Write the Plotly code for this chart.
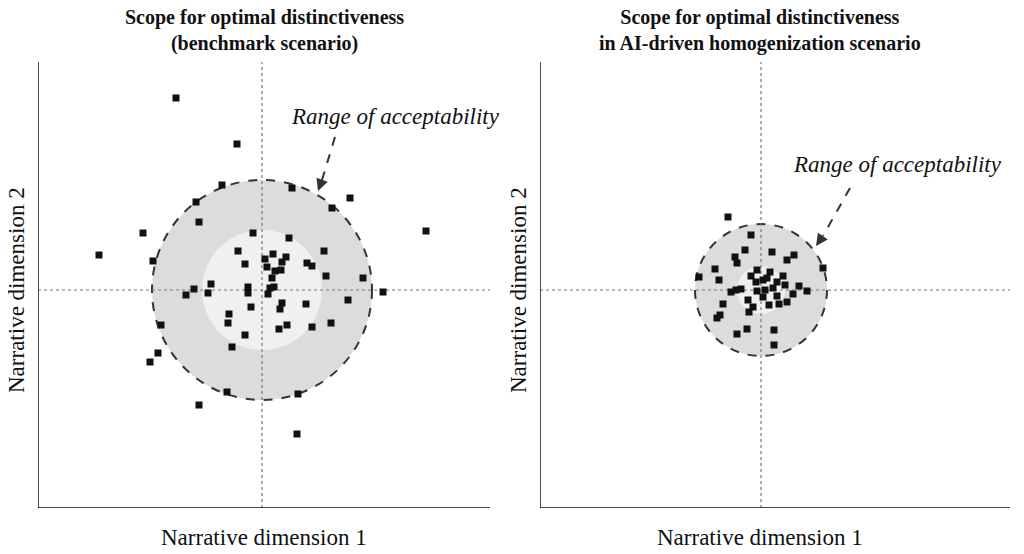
import plotly.graph_objects as go

# positions relative to the crosshair centre (pixel-like units, y up)
bench_x = [-86, -25, -40, 30, -66, 88, 70, -63, -119, 164, -9, 27, -163, -109, -24, 62, -17, 3, 11, 24,
           20, 5, 13, 19, 45, 50, 64, 101, 10, -51, -68, -76, -54, -14, -14, 8, 12, 6, 121, 86,
           -11, 20, 18, 44, -33, -34, -101, 25, 17, 50, 69, -17, -30, -104, -112, -35, 36, -63, 35]
bench_y = [192, 146, 105, 102, 88, 92, 82, 68, 57, 59, 57, 52, 35, 29, 39, 39, 26, 31, 36, 33,
           28, 23, 19, 20, 27, 24, 14, 12, 12, 6, 1, -5, -3, 3, -3, 2, 3, -4, -2, -10,
           -17, -13, -19, -14, -24, -33, -35, -35, -39, -37, -33, -45, -57, -63, -72, -102, -104, -115, -144]

homog_x = [-33, -10, -16, 11, -26, -24, 26, 33, 62, -46, -62, -42, -4, -10, 9, 22, 2, 6, -5, 16,
           24, 38, 46, 32, -30, -25, -20, -4, 4, 12, 2, 16, -13, -38, 8, 18, 26, -8, -12, -41,
           -44, -14, -24, 13, 13]
homog_y = [73, 55, 40, 38, 33, 27, 30, 35, 22, 21, 13, 10, 20, 14, 18, 14, 10, 12, 8, 8,
           5, 4, -1, -4, -2, 0, 1, -1, 0, 2, -7, -6, -10, -14, -15, -14, -12, -17, -22, -25,
           -28, -39, -44, -40, -55]

titles = ["<b>Scope for optimal distinctiveness<br>(benchmark scenario)</b>",
          "<b>Scope for optimal distinctiveness<br>in AI-driven homogenization scenario</b>"]
outer_r = [110, 66]
inner_r = [60, 24]
label = "Range of acceptability"
axis_label_x = "Narrative dimension 1"
axis_label_y = "Narrative dimension 2"

SERIF = "Liberation Serif"
OFF = 8  # page body margin
W, H = 1024 - 2 * OFF, 554 - 2 * OFF


def px(p):
    return (p - OFF) / W


def py(p):
    return 1 - (p - OFF) / H


Y_DOM = [py(508), py(62)]

fig = go.Figure()
fig.add_trace(go.Scatter(x=bench_x, y=bench_y, mode="markers", xaxis="x", yaxis="y",
                         marker=dict(symbol="square", size=7, color="#111"), showlegend=False))
fig.add_trace(go.Scatter(x=homog_x, y=homog_y, mode="markers", xaxis="x2", yaxis="y2",
                         marker=dict(symbol="square", size=7, color="#111"), showlegend=False))

ax_common = dict(showgrid=False, zeroline=False, showticklabels=False, ticks="",
                 showline=False, fixedrange=True)
fig.update_layout(
    width=W, height=H, margin=dict(l=0, r=0, t=0, b=0),
    paper_bgcolor="white", plot_bgcolor="white",
    font=dict(family=SERIF, color="#111"),
    xaxis=dict(domain=[px(38), px(490)], range=[-224, 228], **ax_common),
    yaxis=dict(domain=Y_DOM, range=[-218, 228], **ax_common),
    xaxis2=dict(domain=[px(540), px(1010)], range=[-221, 249], **ax_common),
    yaxis2=dict(domain=Y_DOM, range=[-218, 228], anchor="x2", **ax_common),
)

shapes = []
panels = [("x", "y", -224, 228), ("x2", "y2", -221, 249)]
for i, (xr, yr, x0, x1) in enumerate(panels):
    shapes += [
        dict(type="circle", xref=xr, yref=yr, x0=-outer_r[i], x1=outer_r[i], y0=-outer_r[i], y1=outer_r[i],
             fillcolor="#dcdcdc", line=dict(color="#333", width=2, dash="dash"), layer="below"),
        dict(type="circle", xref=xr, yref=yr, x0=-inner_r[i], x1=inner_r[i], y0=-inner_r[i], y1=inner_r[i],
             fillcolor="#f0f0f0", line=dict(width=0), layer="below"),
        dict(type="line", xref=xr, yref=yr, x0=0, x1=0, y0=-218, y1=228,
             line=dict(color="#777", width=1.2, dash="dot"), layer="below"),
        dict(type="line", xref=xr, yref=yr, x0=x0, x1=x1, y0=0, y1=0,
             line=dict(color="#777", width=1.2, dash="dot"), layer="below"),
        dict(type="line", xref=xr, yref=yr, x0=x0, x1=x0, y0=-218, y1=228, line=dict(color="#111", width=1.5)),
        dict(type="line", xref=xr, yref=yr, x0=x0, x1=x1, y0=-218, y1=-218, line=dict(color="#111", width=1.5)),
    ]
# dashed arrow shafts
shapes += [
    dict(type="line", xref="x", yref="y", x0=73, y0=153, x1=60, y1=110, line=dict(color="#333", width=2, dash="dash")),
    dict(type="line", xref="x2", yref="y2", x0=89, y0=102, x1=62, y1=54, line=dict(color="#333", width=2, dash="dash")),
]
fig.update_layout(shapes=shapes)

ann = [
    dict(xref="x", yref="y", x=56, y=99, ax=60, ay=110, axref="x", ayref="y", showarrow=True,
         arrowhead=2, arrowsize=1.2, arrowwidth=2, arrowcolor="#333", text=""),
    dict(xref="x2", yref="y2", x=55, y=44, ax=62, ay=54, axref="x2", ayref="y2", showarrow=True,
         arrowhead=2, arrowsize=1.2, arrowwidth=2, arrowcolor="#333", text=""),
    dict(xref="x", yref="y", x=133, y=174, text="<i>" + label + "</i>", showarrow=False,
         font=dict(size=23), xanchor="center"),
    dict(xref="x2", yref="y2", x=136, y=126, text="<i>" + label + "</i>", showarrow=False,
         font=dict(size=23), xanchor="center"),
]
title_x = [264, 760]
ylab_x = [16, 518]
for i in range(2):
    ann.append(dict(xref="paper", yref="paper", x=px(title_x[i]), y=py(30), text=titles[i],
                    showarrow=False, font=dict(size=20), xanchor="center", yanchor="middle"))
    ann.append(dict(xref="paper", yref="paper", x=px(title_x[i]), y=py(537), text=axis_label_x,
                    showarrow=False, font=dict(size=23), xanchor="center", yanchor="middle"))
    ann.append(dict(xref="paper", yref="paper", x=px(ylab_x[i]), y=py(290), text=axis_label_y,
                    showarrow=False, font=dict(size=23), textangle=-90, xanchor="center", yanchor="middle"))
fig.update_layout(annotations=ann)

fig.write_html("out.html")
